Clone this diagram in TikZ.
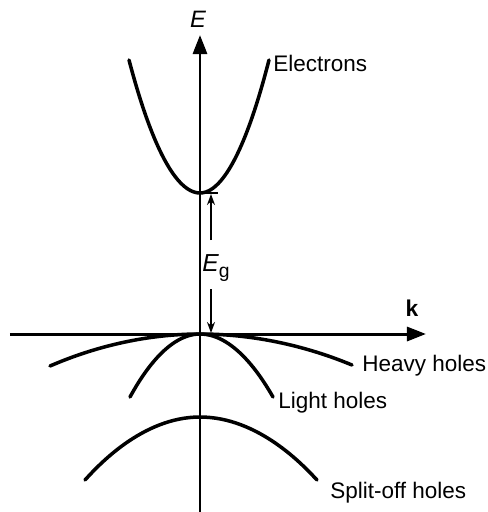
\documentclass[tikz,border=0pt]{standalone}
\usepackage{fontspec}
\setmainfont{Liberation Sans}
\usetikzlibrary{arrows.meta}
\begin{document}
\begin{tikzpicture}[x=0.02cm,y=-0.02cm,
  band/.style={line width=2pt,line cap=round},
  axis/.style={line width=1.7pt},
  gaparrow/.style={line width=0.8pt,-{Stealth[length=11*0.02cm,width=8*0.02cm]}},
  lbl/.style={font=\fontsize{12.8}{15}\selectfont,inner sep=0pt}]
\useasboundingbox (0,0) rectangle (488,512);
% axes
\coordinate (O) at (200,334);
\coordinate (Etop) at (200,35);
\coordinate (Ebot) at (200,512);
\coordinate (kL) at (10,334);
\coordinate (kR) at (426,334);
\draw[line width=1.3pt] (Ebot) -- (O);
\draw[axis,-{Triangle[length=19*0.02cm,width=14*0.02cm]}] (O) -- (Etop);
\draw[axis,-{Triangle[length=19*0.02cm,width=14*0.02cm]}] (kL) -- (kR);
\node[lbl,font=\fontsize{13.5}{16}\selectfont\itshape] (Elab) at (198,19) {E};
\node[lbl,font=\fontsize{13}{16}\selectfont\bfseries] (klab) at (412,308) {k};
% bands
\coordinate (elL) at (129,60);
\coordinate (elB) at (200,193);
\coordinate (elR) at (269,60);
\draw[band] (elL) parabola bend (elB) (elR);
\coordinate (hhL) at (50,366);
\coordinate (hhR) at (352,365);
\draw[band] (hhL) parabola bend (O) (hhR);
\coordinate (lhL) at (130,397);
\coordinate (lhR) at (273,397);
\draw[band] (lhL) parabola bend (O) (lhR);
\coordinate (soL) at (85,480);
\coordinate (soB) at (200,417);
\coordinate (soR) at (317,480);
\draw[band] (soL) parabola bend (soB) (soR);
% labels
\node[lbl,anchor=west] (elab) at (273,63) {Electrons};
\node[lbl,anchor=west] (hhlab) at (362,366) {Heavy holes};
\node[lbl,anchor=west] (lhlab) at (278,403) {Light holes};
\node[lbl,anchor=west] (solab) at (330,493) {Split-off holes};
% gap
\coordinate (tickR) at (218,193);
\draw[line width=1pt] (elB) -- (tickR);
\node[lbl,font=\fontsize{14}{16}\selectfont] (Eg) at (216,268) {\textit{E}\raisebox{-0.45ex}{\fontsize{11}{12}\selectfont g}};
\coordinate (gupS) at (211,240);
\coordinate (gupE) at (211,194);
\coordinate (gdnS) at (211,289);
\coordinate (gdnE) at (211,333);
\draw[gaparrow] (gupS) -- (gupE);
\draw[gaparrow] (gdnS) -- (gdnE);
\end{tikzpicture}
\end{document}
